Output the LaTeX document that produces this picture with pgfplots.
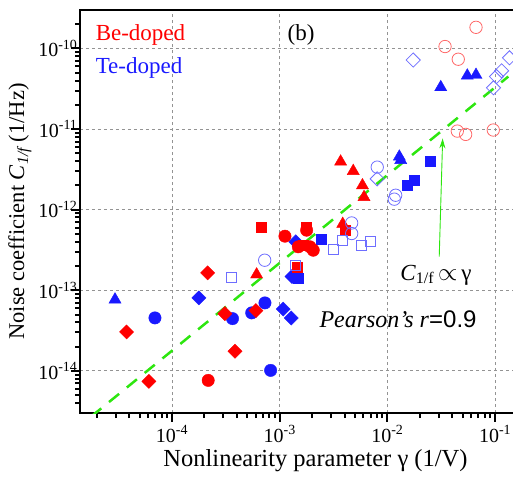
\documentclass[border=0pt]{standalone}
\usepackage{pgfplots}
\pgfplotsset{compat=1.18}
\usetikzlibrary{arrows.meta}
\usepackage{fontspec}
\setmainfont{Liberation Serif}
\setsansfont{Liberation Sans}
\definecolor{bered}{RGB}{255,0,0}
\definecolor{teblue}{RGB}{25,25,255}
\definecolor{lred}{RGB}{255,105,105}
\definecolor{lblue}{RGB}{110,110,255}
\definecolor{fitgreen}{RGB}{45,230,15}
\newcommand{\tfs}{\fontsize{20}{24}\selectfont}
\newcommand{\lfs}{\fontsize{23}{27}\selectfont}
\begin{document}
\begin{tikzpicture}
\path[use as bounding box, clip] (-80pt,-68pt) rectangle (433pt,413pt);
\begin{axis}[
  at={(0pt,0pt)}, anchor=south west,
  scale only axis, width=437pt, height=403pt,
  xmode=log, ymode=log,
  xmin=1.4e-5, xmax=0.1597, ymin=3e-15, ymax=3e-10,
  axis line style={line width=2.5pt},
  every tick/.style={black, line width=2pt},
  tick align=outside,
  major tick length=9pt, minor tick length=5pt,
  xtick pos=left, ytick pos=left,
  xtick={1e-4,1e-3,1e-2,1e-1},
  xticklabels={10\textsuperscript{-4},10\textsuperscript{-3},10\textsuperscript{-2},10\textsuperscript{-1}},
  minor xtick={2e-5,3e-5,4e-5,5e-5,6e-5,7e-5,8e-5,9e-5,2e-4,3e-4,4e-4,5e-4,6e-4,7e-4,8e-4,9e-4,2e-3,3e-3,4e-3,5e-3,6e-3,7e-3,8e-3,9e-3,2e-2,3e-2,4e-2,5e-2,6e-2,7e-2,8e-2,9e-2},
  ytick={1e-14,1e-13,1e-12,1e-11,1e-10},
  yticklabels={10\textsuperscript{-14},10\textsuperscript{-13},10\textsuperscript{-12},10\textsuperscript{-11},10\textsuperscript{-10}},
  minor ytick={4e-15,5e-15,6e-15,7e-15,8e-15,9e-15,2e-14,3e-14,4e-14,5e-14,6e-14,7e-14,8e-14,9e-14,2e-13,3e-13,4e-13,5e-13,6e-13,7e-13,8e-13,9e-13,2e-12,3e-12,4e-12,5e-12,6e-12,7e-12,8e-12,9e-12,2e-11,3e-11,4e-11,5e-11,6e-11,7e-11,8e-11,9e-11,2e-10},
  grid=major,
  major grid style={gray!85, line width=0.8pt, dash pattern=on 3pt off 3pt},
  tick label style={font=\tfs},
  yticklabel style={xshift=10pt},
  xlabel={Nonlinearity parameter γ (1/V)},
  ylabel={Noise coefficient \textit{C}\textsubscript{\textit{1/f}}\,(1/Hz)},
  xlabel style={font=\fontsize{24.5}{28}\selectfont, xshift=17pt},
  ylabel style={font=\fontsize{22.5}{27}\selectfont},
  clip=true,
]
% Te-doped filled
\addplot[only marks, mark=triangle*, mark size=7pt, color=teblue] coordinates {
(2.96e-5,7.66e-14) (0.01291,4.54e-12) (0.0133,4.12e-12) (0.0313,3.30e-11) (0.0552,4.60e-11) (0.0665,4.69e-11)};
\addplot[only marks, mark=*, mark size=6.2pt, color=teblue] coordinates {
(6.95e-5,4.54e-14) (3.65e-4,4.45e-14) (5.50e-4,5.24e-14) (7.30e-4,6.97e-14) (8.24e-4,1.014e-14)};
\addplot[only marks, mark=square*, mark size=5pt, mark options={rotate=45}, color=teblue] coordinates {
(1.78e-4,8.05e-14) (1.079e-3,5.84e-14) (1.28e-3,4.52e-14) (1.41e-3,3.99e-13) (1.30e-3,1.48e-13)};
\addplot[only marks, mark=square*, mark size=5pt, color=teblue] coordinates {
(1.48e-3,1.40e-13) (2.455e-3,4.27e-13) (0.01531,2.04e-12) (0.01766,2.31e-12) (0.0249,4.00e-12)};
% Be-doped filled
\addplot[only marks, mark=square*, mark size=5pt, mark options={rotate=45}, color=bered] coordinates {
(3.79e-5,3.04e-14) (6.11e-5,7.41e-15) (2.146e-4,1.645e-13) (3.10e-4,5.14e-14) (3.85e-4,1.75e-14) (6.02e-4,5.60e-14)};
\addplot[only marks, mark=*, mark size=6.2pt, color=bered] coordinates {
(2.17e-4,7.62e-15) (1.119e-3,4.69e-13) (1.49e-3,3.46e-13) (1.91e-3,3.46e-13) (2.05e-3,3.14e-13) (1.78e-3,5.56e-13)};
\addplot[only marks, mark=square*, mark size=5pt, color=bered] coordinates {
(6.78e-4,6.01e-13) (1.78e-3,6.14e-13) (1.655e-3,3.62e-13) (1.455e-3,1.95e-13) (4.04e-3,5.56e-13)};
\addplot[only marks, mark=triangle*, mark size=7pt, color=bered] coordinates {
(6.11e-4,1.567e-13) (3.68e-3,3.94e-12) (4.82e-3,3.01e-12) (5.87e-3,2.00e-12) (6.07e-3,1.43e-12) (3.85e-3,6.64e-13)};
% open markers
\addplot[only marks, mark=o, mark size=6.2pt, color=lred, mark options={line width=0.8pt}] coordinates {
(0.0665,1.83e-10) (0.0343,1.057e-10) (0.0455,7.35e-11) (0.0446,9.44e-12) (0.0533,8.59e-12) (0.0962,9.73e-12)};
\addplot[only marks, mark=o, mark size=6.2pt, color=lblue, mark options={line width=0.8pt}] coordinates {
(7.26e-4,2.36e-13) (4.66e-3,6.84e-13) (4.66e-3,5.06e-13) (8.05e-3,3.37e-12) (0.01159,1.35e-12) (0.01194,1.51e-12)};
\addplot[only marks, mark=square, mark size=5pt, color=lblue, mark options={line width=0.8pt}] coordinates {
(3.58e-4,1.426e-13) (1.386e-3,2.06e-13) (3.15e-3,3.23e-13) (3.85e-3,4.11e-13) (5.77e-3,3.62e-13) (7.00e-3,3.99e-13)};
\addplot[only marks, mark=square, mark size=5pt, color=lblue, mark options={rotate=45, line width=0.8pt}] coordinates {
(8.05e-3,2.41e-12) (0.01738,7.19e-11) (0.1361,7.65e-11) (0.1151,5.28e-11) (0.1030,4.48e-11) (0.0966,3.25e-11)};
% fit line
\addplot[fitgreen, line width=2.5pt, dash pattern=on 13pt off 10pt] coordinates {(1.778e-5,2.71e-15) (0.1327,4.48e-11)};
\draw[fitgreen, line width=0.9pt, -{Stealth[length=10pt, width=6pt]}] (axis cs:0.0303,2.62e-13) -- (axis cs:0.0326,7.66e-12);
% texts
\node[anchor=west, text=bered, font=\lfs] at (axis description cs:0.028,0.938) {Be-doped};
\node[anchor=west, text=teblue, font=\lfs] at (axis description cs:0.028,0.856) {Te-doped};
\node[font=\lfs] at (axis description cs:0.506,0.938) {(b)};
\node[anchor=base west, font=\lfs] at (axis description cs:0.725,0.330) {\textit{C}\textsubscript{1/f}\,$\propto$\,γ};
\node[anchor=base west, font=\fontsize{24}{28}\selectfont] at (axis description cs:0.540,0.2134) {\textit{Pearson's r}{\sffamily =0.9}};
\end{axis}
\end{tikzpicture}
\end{document}
